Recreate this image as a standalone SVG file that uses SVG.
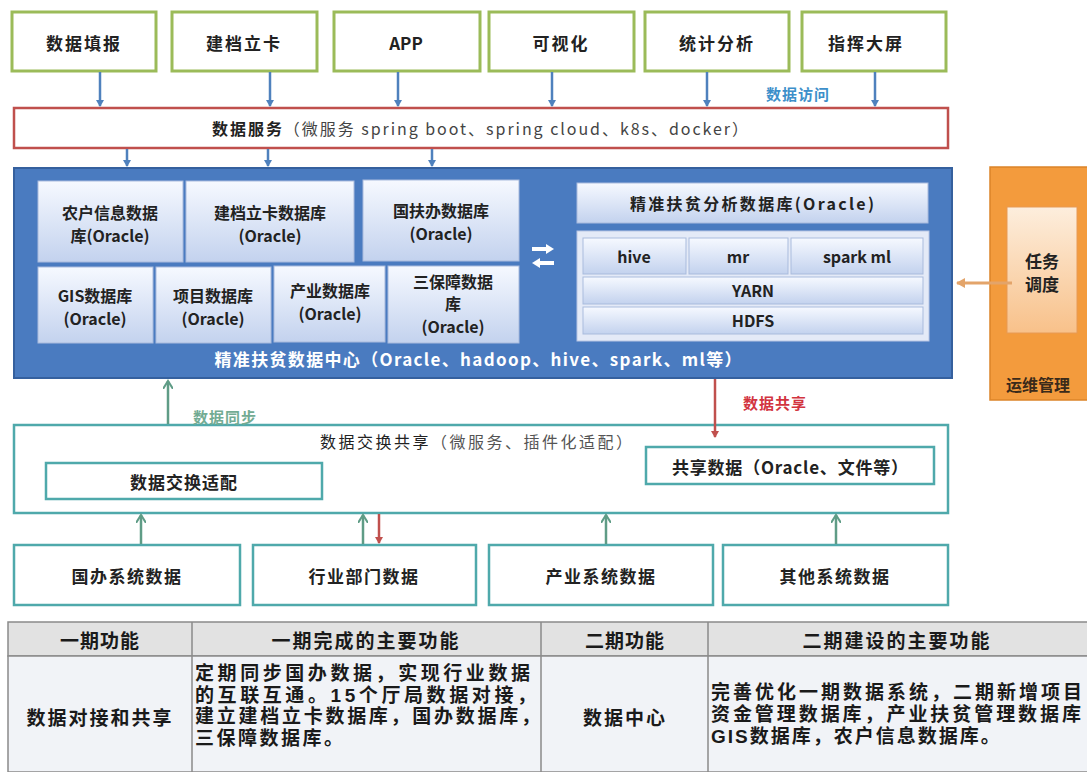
<svg xmlns="http://www.w3.org/2000/svg" width="1087" height="772" viewBox="0 0 1087 772">
<style>
text{font-family:"Noto Sans CJK SC","Liberation Sans",sans-serif;fill:#222;text-anchor:middle;dominant-baseline:central}
.b{font-weight:bold}
.top{fill:#fff;stroke:#9bbb59;stroke-width:3}
.teal{fill:#fff;stroke:#4fa9ab;stroke-width:2.5}
.db{fill:url(#gdb);stroke:#a9bbdd;stroke-width:1}
.t16{font-size:16px;font-weight:bold}
.ba{stroke:#4f81bd;stroke-width:2.5;fill:none;marker-end:url(#mb)}
.ga{stroke:#5f9c86;stroke-width:2.5;fill:none;marker-end:url(#mg)}
.ra{stroke:#c0504d;stroke-width:2.5;fill:none;marker-end:url(#mr)}
.cell{stroke:#8a8a8a;stroke-width:1.5}
.tb{font-size:19px;font-weight:bold;fill:#1a1a1a}
.para{font-family:"Liberation Sans","Noto Sans CJK SC",sans-serif;font-size:19px;font-weight:bold;fill:#1a1a1a;text-anchor:start}
</style>
<defs>
<linearGradient id="gdb" x1="0" y1="0" x2="0" y2="1"><stop offset="0" stop-color="#f6f9ff"/><stop offset="1" stop-color="#c3d2ee"/></linearGradient>
<linearGradient id="gor" x1="0" y1="0" x2="0" y2="1"><stop offset="0" stop-color="#fdeedd"/><stop offset="1" stop-color="#f8c18a"/></linearGradient>
<marker id="mb" markerWidth="8" markerHeight="8" refX="6" refY="4" orient="auto" markerUnits="userSpaceOnUse"><path d="M0,0 L7,4 L0,8 z" fill="#4f81bd"/></marker>
<marker id="mg" markerWidth="10" markerHeight="10" refX="8" refY="5" orient="auto" markerUnits="userSpaceOnUse"><path d="M0,0 L8,5 L0,10" fill="none" stroke="#5f9c86" stroke-width="2"/></marker>
<marker id="mr" markerWidth="8" markerHeight="8" refX="6" refY="4" orient="auto" markerUnits="userSpaceOnUse"><path d="M0,0 L7,4 L0,8 z" fill="#c0504d"/></marker>
<marker id="mo" markerWidth="10" markerHeight="10" refX="8" refY="5" orient="auto" markerUnits="userSpaceOnUse"><path d="M0,0 L9,5 L0,10 z" fill="#e3a46a"/></marker>
</defs>
<rect width="1087" height="772" fill="#fff"/>

<g id="top-boxes">
<g id="n-tianbao"><rect class="top" x="12" y="12" width="144" height="59"/><text class="b" x="84" y="42" font-size="17" letter-spacing="2">数据填报</text></g>
<g id="n-jiandang"><rect class="top" x="172" y="12" width="145" height="59"/><text class="b" x="244" y="42" font-size="17" letter-spacing="2">建档立卡</text></g>
<g id="n-app"><rect class="top" x="334" y="12" width="146" height="59"/><text class="b" x="406" y="42" font-size="17">APP</text></g>
<g id="n-keshihua"><rect class="top" x="489" y="12" width="145" height="59"/><text class="b" x="561" y="42" font-size="17" letter-spacing="2">可视化</text></g>
<g id="n-tongji"><rect class="top" x="645" y="12" width="144" height="59"/><text class="b" x="717" y="42" font-size="17" letter-spacing="2">统计分析</text></g>
<g id="n-zhihui"><rect class="top" x="802" y="12" width="144" height="59"/><text class="b" x="866" y="42" font-size="17" letter-spacing="2">指挥大屏</text></g>
</g>

<g id="n-service">
<rect x="14" y="108" width="934" height="40" fill="#fff" stroke="#c0504d" stroke-width="2.5"/>
<text x="480" y="128" font-size="16" textLength="536" lengthAdjust="spacing"><tspan class="b">数据服务</tspan><tspan fill="#444">（微服务 spring boot、spring cloud、k8s、docker）</tspan></text>
</g>

<g id="n-datacenter">
<rect x="14" y="168" width="938" height="210" fill="#4a7bc0" stroke="#35609e" stroke-width="2"/>
<g id="n-nonghu"><rect class="db" x="38" y="181" width="145" height="81"/><text class="t16"><tspan x="110" y="212">农户信息数据</tspan><tspan x="110" y="235">库(Oracle)</tspan></text></g>
<g id="n-jdlk"><rect class="db" x="186" y="181" width="168" height="81"/><text class="t16"><tspan x="270" y="212">建档立卡数据库</tspan><tspan x="270" y="235">(Oracle)</tspan></text></g>
<g id="n-gfb"><rect class="db" x="363" y="180" width="156" height="81"/><text class="t16"><tspan x="441" y="210">国扶办数据库</tspan><tspan x="441" y="233">(Oracle)</tspan></text></g>
<g id="n-gis"><rect class="db" x="38" y="267" width="115" height="76"/><text class="t16"><tspan x="95" y="295">GIS数据库</tspan><tspan x="95" y="318">(Oracle)</tspan></text></g>
<g id="n-xiangmu"><rect class="db" x="156" y="267" width="115" height="76"/><text class="t16"><tspan x="213" y="295">项目数据库</tspan><tspan x="213" y="318">(Oracle)</tspan></text></g>
<g id="n-chanye"><rect class="db" x="274" y="266" width="111" height="76"/><text class="t16"><tspan x="330" y="290">产业数据库</tspan><tspan x="330" y="313">(Oracle)</tspan></text></g>
<g id="n-sanbao"><rect class="db" x="388" y="266" width="131" height="77"/><text class="t16"><tspan x="453" y="281">三保障数据</tspan><tspan x="453" y="303">库</tspan><tspan x="453" y="326">(Oracle)</tspan></text></g>
<g id="n-exchange-icon">
<path d="M532,249 H548" stroke="#fff" stroke-width="4"/><path d="M546,244 L554,249 L546,254 z" fill="#fff"/>
<path d="M538,263 H554" stroke="#fff" stroke-width="4"/><path d="M540,258 L532,263 L540,268 z" fill="#fff"/>
</g>
<g id="n-fenxi"><rect class="db" x="577" y="183" width="351" height="40"/><text class="t16" x="752" y="203" font-size="17" textLength="244" lengthAdjust="spacing">精准扶贫分析数据库(Oracle)</text></g>
<g id="n-hadoop">
<rect x="577" y="231" width="352" height="110" fill="#e4eaf7" stroke="#b8c6e4"/>
<g id="n-hive"><rect class="db" x="583" y="238" width="103" height="36"/><text class="t16" x="634" y="256" font-size="17">hive</text></g>
<g id="n-mr"><rect class="db" x="689" y="238" width="99" height="36"/><text class="t16" x="738" y="256" font-size="17">mr</text></g>
<g id="n-spark"><rect class="db" x="791" y="238" width="132" height="36"/><text class="t16" x="857" y="256" font-size="17">spark ml</text></g>
<g id="n-yarn"><rect class="db" x="583" y="277" width="340" height="27"/><text class="t16" x="753" y="290" font-size="17">YARN</text></g>
<g id="n-hdfs"><rect class="db" x="583" y="307" width="340" height="27"/><text class="t16" x="753" y="320" font-size="17">HDFS</text></g>
</g>
<text class="b" x="478" y="358" font-size="17" style="fill:#fff" textLength="527" lengthAdjust="spacing">精准扶贫数据中心（Oracle、hadoop、hive、spark、ml等）</text>
</g>

<g id="n-ops">
<rect x="990" y="167" width="100" height="233" fill="#f39b3d" stroke="#dc8429" stroke-width="1.5"/>
<g id="n-task"><rect x="1007" y="207" width="70" height="126" fill="url(#gor)" stroke="#e89a55"/>
<text class="b" font-size="17"><tspan x="1042" y="260">任务</tspan><tspan x="1042" y="283">调度</tspan></text></g>
<text class="b" x="1038" y="384" font-size="16" style="fill:#3a2a1a">运维管理</text>
</g>

<g id="n-exch">
<rect class="teal" x="14" y="425" width="934" height="88"/>
<text x="476" y="441" font-size="16" textLength="312" lengthAdjust="spacing"><tspan>数据交换共享</tspan><tspan fill="#555">（微服务、插件化适配）</tspan></text>
<g id="n-adapter"><rect class="teal" x="46" y="463" width="276" height="36"/><text class="b" x="184" y="481" font-size="17" letter-spacing="1">数据交换适配</text></g>
<g id="n-shared"><rect class="teal" x="646" y="447" width="288" height="37"/><text class="b" x="790" y="466" font-size="17" textLength="236" lengthAdjust="spacing">共享数据（Oracle、文件等）</text></g>
</g>

<g id="sources">
<g id="n-guoban"><rect class="teal" x="14" y="545" width="226" height="60"/><text class="b" x="127" y="575" font-size="17" letter-spacing="1.5">国办系统数据</text></g>
<g id="n-hangye"><rect class="teal" x="253" y="545" width="223" height="60"/><text class="b" x="364" y="575" font-size="17" letter-spacing="1.5">行业部门数据</text></g>
<g id="n-chanyext"><rect class="teal" x="489" y="545" width="224" height="60"/><text class="b" x="601" y="575" font-size="17" letter-spacing="1.5">产业系统数据</text></g>
<g id="n-qita"><rect class="teal" x="723" y="545" width="225" height="60"/><text class="b" x="835" y="575" font-size="17" letter-spacing="1.5">其他系统数据</text></g>
</g>

<g id="connectors">
<path class="ba" d="M100,72 V106"/>
<path class="ba" d="M270,72 V106"/>
<path class="ba" d="M398,72 V106"/>
<path class="ba" d="M552,72 V106"/>
<path class="ba" d="M707,72 V106"/>
<path class="ba" d="M875,72 V106"/>
<path class="ba" d="M127,149 V166"/>
<path class="ba" d="M268,149 V166"/>
<path class="ba" d="M432,149 V166"/>
<path class="ga" d="M168,424 V381"/>
<path class="ra" d="M715,379 V437"/>
<path d="M1012,283 H957" stroke="#e3a46a" stroke-width="3" fill="none" marker-end="url(#mo)"/>
<path class="ga" d="M141,544 V515"/>
<path class="ga" d="M363,544 V515"/>
<path class="ra" d="M379,514 V543"/>
<path class="ga" d="M606,544 V515"/>
<path class="ga" d="M836,544 V515"/>
<text x="798" y="93" font-size="15" class="b" style="fill:#3d8fca" letter-spacing="1">数据访问</text>
<text x="225" y="416" font-size="15" class="b" style="fill:#72ab93" letter-spacing="1">数据同步</text>
<text x="775" y="402" font-size="15" class="b" style="fill:#d2343f" letter-spacing="1">数据共享</text>
</g>

<g id="table">
<rect x="8" y="622" width="1085" height="34" fill="#e2e2e2" class="cell"/>
<rect x="8" y="656" width="1085" height="116" fill="#f1f3f7" class="cell"/>
<path class="cell" d="M192,622 V772 M541,622 V772 M708,622 V772" fill="none"/>
<text class="tb" x="100" y="639" letter-spacing="1">一期功能</text>
<text class="tb" x="366" y="639" letter-spacing="2">一期完成的主要功能</text>
<text class="tb" x="625" y="639" letter-spacing="1">二期功能</text>
<text class="tb" x="897" y="639" letter-spacing="2">二期建设的主要功能</text>
<text class="tb" x="100" y="716" font-size="20" letter-spacing="2">数据对接和共享</text>
<text class="para"><tspan x="195" y="673" textLength="335" lengthAdjust="spacing">定期同步国办数据，实现行业数据</tspan><tspan x="195" y="695" textLength="341" lengthAdjust="spacing">的互联互通。15个厅局数据对接，</tspan><tspan x="195" y="716" textLength="345" lengthAdjust="spacing">建立建档立卡数据库，国办数据库，</tspan><tspan x="195" y="738" letter-spacing="2.5">三保障数据库。</tspan></text>
<text class="tb" x="625" y="716" font-size="20" letter-spacing="2">数据中心</text>
<text class="para"><tspan x="711" y="692" textLength="371" lengthAdjust="spacing">完善优化一期数据系统，二期新增项目</tspan><tspan x="711" y="714" textLength="370" lengthAdjust="spacing">资金管理数据库，产业扶贫管理数据库</tspan><tspan x="711" y="736" letter-spacing="2">GIS数据库，农户信息数据库。</tspan></text>
</g>
</svg>
